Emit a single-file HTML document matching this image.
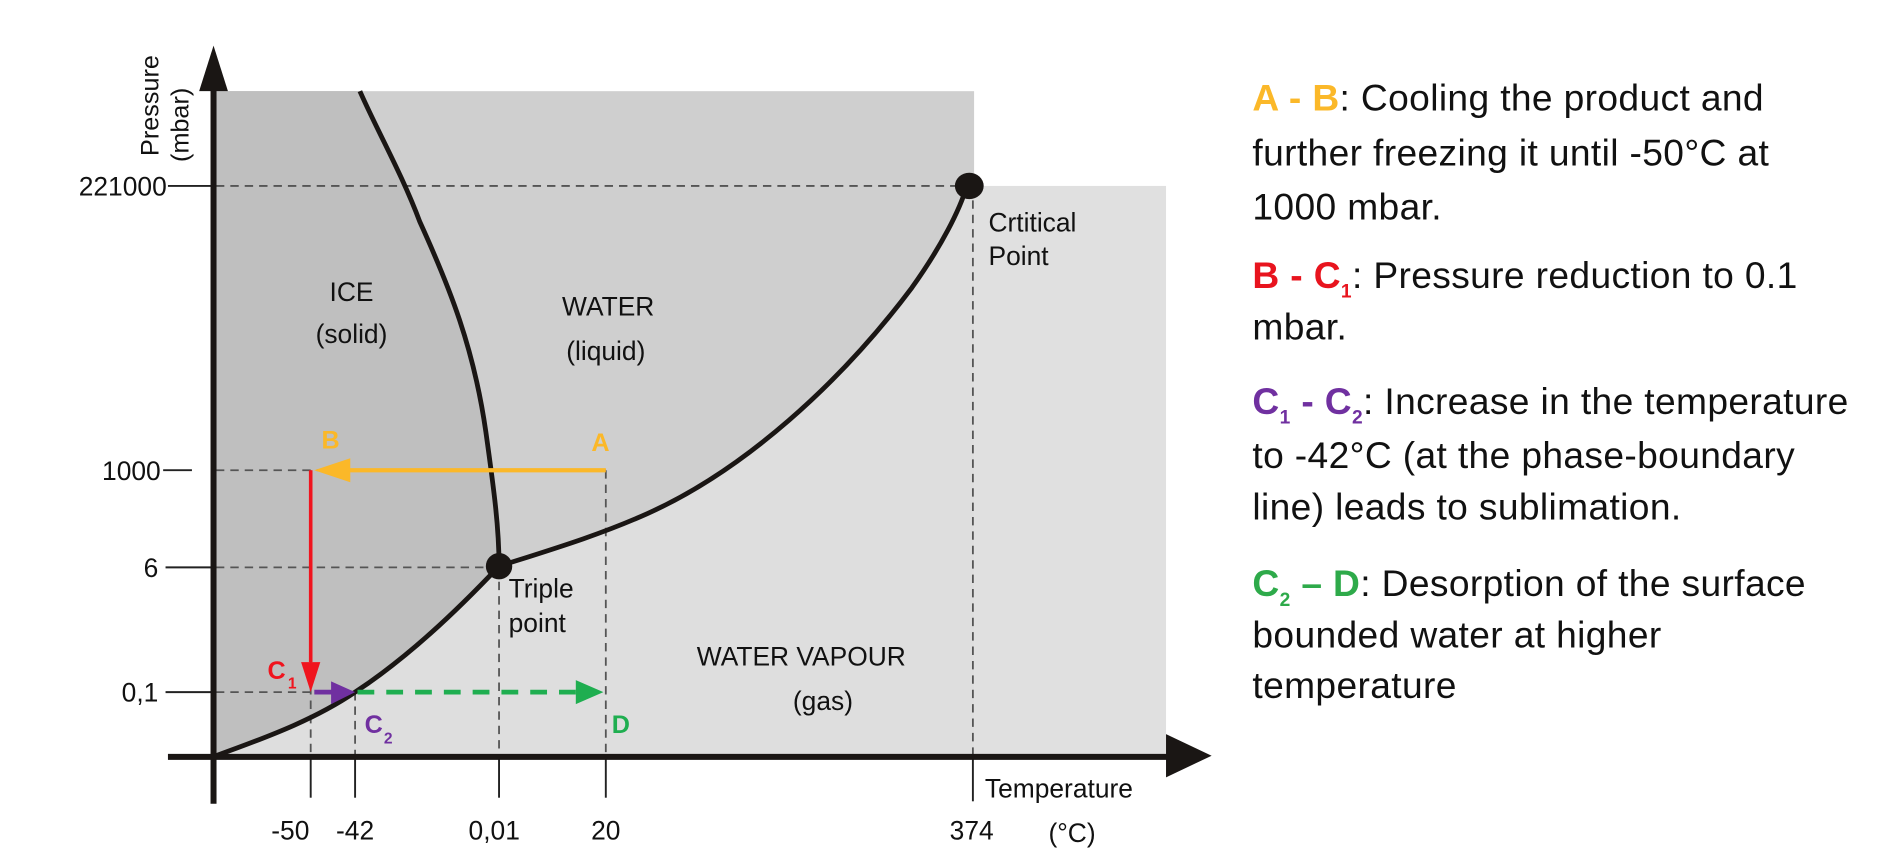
<!DOCTYPE html>
<html><head><meta charset="utf-8"><style>
html,body{margin:0;padding:0;background:#fff;}
svg{display:block;}
</style></head><body>
<svg width="1881" height="868" viewBox="0 0 1568 723.6" preserveAspectRatio="none" xmlns="http://www.w3.org/2000/svg" font-family="Liberation Sans, sans-serif">
<rect width="1568" height="724" fill="#fff"/>
<rect x="180" y="76" width="632" height="554" fill="#cfcfcf"/>
<rect x="812" y="155" width="160" height="475" fill="#e0e0e0"/>
<path d="M180,630 C230,612 265,598 296,577 C340,548 380,510 416,472 C460,458 500,446 540,428 C620,392 700,320 760,240 C785,205 800,175 806,155 L812,155 L812,630 Z" fill="#dedede"/>
<path d="M180,76 L300,76 C315,110 335,145 350,185 C375,240 395,290 405,360 C412,410 416,440 416,472 C380,510 340,548 296,577 C265,598 230,612 180,630 Z" fill="#bfbfbf"/>

<g stroke="#555" stroke-width="1.5" stroke-dasharray="7,5" fill="none">
<line x1="180" y1="155" x2="806" y2="155"/>
<line x1="180" y1="392" x2="505" y2="392"/>
<line x1="180" y1="473" x2="416" y2="473"/>
<line x1="180" y1="577" x2="259" y2="577"/>
<line x1="259" y1="392" x2="259" y2="630"/>
<line x1="296" y1="577" x2="296" y2="630"/>
<line x1="416" y1="473" x2="416" y2="630"/>
<line x1="505" y1="392" x2="505" y2="630"/>
<line x1="811" y1="155" x2="811" y2="630"/>
</g>
<g stroke="#222" stroke-width="1.6">
<line x1="140" y1="155" x2="178" y2="155"/>
<line x1="136" y1="392" x2="160" y2="392"/>
<line x1="138" y1="473" x2="178" y2="473"/>
<line x1="138" y1="577" x2="178" y2="577"/>
<line x1="259" y1="630" x2="259" y2="665"/>
<line x1="296" y1="630" x2="296" y2="665"/>
<line x1="416" y1="630" x2="416" y2="665"/>
<line x1="505" y1="630" x2="505" y2="665"/>
<line x1="811" y1="630" x2="811" y2="668"/>
</g>

<g stroke="#1a1614" stroke-width="4" fill="none">
<path d="M300,76 C315,110 335,145 350,185 C375,240 395,290 405,360 C412,410 416,440 416,472"/>
<path d="M180,630 C230,612 265,598 296,577 C340,548 380,510 416,472"/>
<path d="M416,472 C460,458 500,446 540,428 C620,392 700,320 760,240 C785,205 800,175 806,155"/>
</g>
<circle cx="416" cy="472" r="11" fill="#1a1614"/>
<ellipse cx="808" cy="155" rx="12" ry="11" fill="#1a1614"/>

<g stroke="#1a1614" stroke-width="5">
<line x1="178" y1="62" x2="178" y2="670"/>
<line x1="140" y1="631" x2="975" y2="631"/>
</g>
<polygon points="178,38 166,76 190,76" fill="#1a1614"/>
<polygon points="1010,630 972,612 972,648" fill="#1a1614"/>

<line x1="505" y1="392" x2="290" y2="392" stroke="#fbb829" stroke-width="3.5"/>
<polygon points="262,392 292,382 292,402" fill="#fbb829"/>
<line x1="259" y1="392" x2="259" y2="552" stroke="#f0141e" stroke-width="3"/>
<polygon points="259,577 251,552 267,552" fill="#f0141e"/>
<line x1="262" y1="577" x2="280" y2="577" stroke="#7030a0" stroke-width="4"/>
<polygon points="296,577 276,568 276,587" fill="#7030a0"/>
<line x1="298" y1="577" x2="480" y2="577" stroke="#1fae50" stroke-width="4" stroke-dasharray="14,10"/>
<polygon points="503,577 480,567 480,587" fill="#1fae50"/>

<g font-weight="bold" font-size="21">
<text x="268" y="374" fill="#fbb829">B</text>
<text x="493" y="376" fill="#fbb829">A</text>
<text x="223" y="566" fill="#f0141e">C</text><text x="240" y="574" font-size="13" fill="#f0141e">1</text>
<text x="304" y="611" fill="#7030a0">C</text><text x="320" y="620" font-size="13" fill="#7030a0">2</text>
<text x="510" y="611" fill="#1fae50">D</text>
</g>

<g font-size="22" fill="#111" text-anchor="middle">
<text x="293" y="251">ICE</text>
<text x="293" y="286">(solid)</text>
<text x="507" y="263">WATER</text>
<text x="505" y="300">(liquid)</text>
<text x="668" y="555">WATER VAPOUR</text>
<text x="686" y="592">(gas)</text>
</g>
<g font-size="22" fill="#111">
<text x="824" y="193">Crtitical</text>
<text x="824" y="221">Point</text>
<text x="424" y="498">Triple</text>
<text x="424" y="527">point</text>
<text x="821" y="665">Temperature</text>
<text x="874" y="702">(°C)</text>
</g>
<g font-size="22" fill="#111" text-anchor="end">
<text x="139" y="163">221000</text>
<text x="134" y="400">1000</text>
<text x="132" y="481">6</text>
<text x="132" y="585">0,1</text>
</g>
<g font-size="22" fill="#111" text-anchor="middle">
<text x="242" y="700">-50</text>
<text x="296" y="700">-42</text>
<text x="412" y="700">0,01</text>
<text x="505" y="700">20</text>
<text x="810" y="700">374</text>
</g>
<text transform="translate(132,130) rotate(-90)" font-size="21" fill="#111">Pressure</text>
<text transform="translate(157,135) rotate(-90)" font-size="21" fill="#111">(mbar)</text>

<g font-size="31" fill="#111" letter-spacing="0.3">
<text x="1044" y="92"><tspan fill="#fbb829" font-weight="bold">A - B</tspan>: Cooling the product and</text>
<text x="1044" y="138">further freezing it until -50°C at</text>
<text x="1044" y="183">1000 mbar.</text>
<text x="1044" y="240"><tspan fill="#e8141e" font-weight="bold">B - C</tspan><tspan fill="#e8141e" font-weight="bold" font-size="16" dy="8">1</tspan><tspan dy="-8">: Pressure reduction to 0.1</tspan></text>
<text x="1044" y="283">mbar.</text>
<text x="1044" y="345"><tspan fill="#7030a0" font-weight="bold">C</tspan><tspan fill="#7030a0" font-weight="bold" font-size="16" dy="8">1</tspan><tspan fill="#7030a0" font-weight="bold" dy="-8"> - C</tspan><tspan fill="#7030a0" font-weight="bold" font-size="16" dy="8">2</tspan><tspan dy="-8">: Increase in the temperature</tspan></text>
<text x="1044" y="390">to -42°C (at the phase-boundary</text>
<text x="1044" y="433">line) leads to sublimation.</text>
<text x="1044" y="497"><tspan fill="#2eaa4a" font-weight="bold">C</tspan><tspan fill="#2eaa4a" font-weight="bold" font-size="16" dy="8">2</tspan><tspan fill="#2eaa4a" font-weight="bold" dy="-8"> – D</tspan>: Desorption of the surface</text>
<text x="1044" y="540">bounded water at higher</text>
<text x="1044" y="582">temperature</text>
</g>
</svg>
</body></html>
